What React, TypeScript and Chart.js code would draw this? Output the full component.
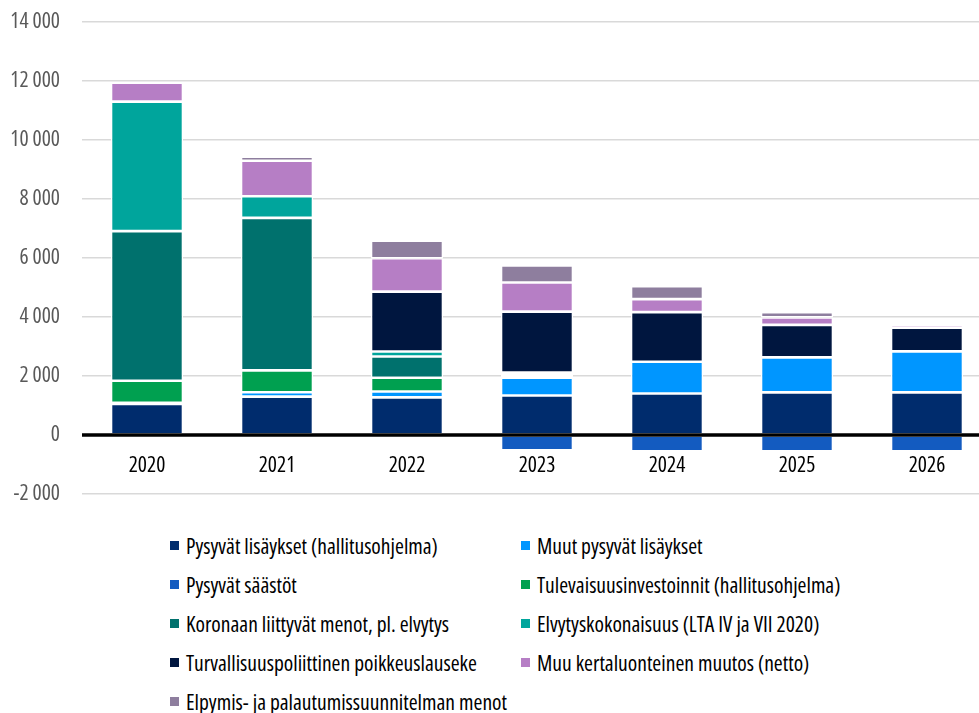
import React, { useEffect, useRef } from 'react';
import { Chart, registerables } from 'chart.js';

Chart.register(...registerables);

const FONT_FAMILY = "'Open Sans', sans-serif";
const FONT_SIZE = 21.5;

const categories = ['2020', '2021', '2022', '2023', '2024', '2025', '2026'];

const seriesLabels = [
  'Pysyvät lisäykset (hallitusohjelma)',
  'Muut pysyvät lisäykset',
  'Pysyvät säästöt',
  'Tulevaisuusinvestoinnit (hallitusohjelma)',
  'Koronaan liittyvät menot, pl. elvytys',
  'Elvytyskokonaisuus (LTA IV ja VII 2020)',
  'Turvallisuuspoliittinen poikkeuslauseke',
  'Muu kertaluonteinen muutos (netto)',
  'Elpymis- ja palautumissuunnitelman menot',
];

const seriesColors = [
  '#002C6D',
  '#0096FF',
  '#135BC0',
  '#00A050',
  '#00716D',
  '#00A59C',
  '#00163F',
  '#B67EC5',
  '#8E7E9E',
];

const pysyvatLisaykset = [1050, 1300, 1275, 1340, 1405, 1446, 1446];
const muutPysyvatLisaykset = [40, 150, 200, 600, 1077, 1185, 1388];
const pysyvatSaastot = [null, null, null, -520, -550, -550, -550];
const tulevaisuusinvestoinnit = [750, 740, 465, 60, null, null, null];
const koronaMenot = [5070, 5170, 720, 60, null, null, null];
const elvytys = [4390, 735, 170, 60, null, null, null];
const turvallisuus = [null, null, 2030, 2062, 1683, 1101, 800];
const muuKertaluonteinen = [640, 1200, 1130, 990, 440, 254, 95];
const elpymis = [null, 140, 600, 572, 441, 179, null];

const seriesValues = [
  pysyvatLisaykset,
  muutPysyvatLisaykset,
  pysyvatSaastot,
  tulevaisuusinvestoinnit,
  koronaMenot,
  elvytys,
  turvallisuus,
  muuKertaluonteinen,
  elpymis,
];

const yMin = -2000;
const yMax = 14000;
const yStep = 2000;

function formatTick(v: number): string {
  const s = Math.abs(v).toString().replace(/\B(?=(\d{3})+(?!\d))/g, ' ');
  return (v < 0 ? '-' : '') + s;
}

const overlayPlugin = {
  id: 'overlay',
  afterDatasetsDraw(chart: any) {
    const { ctx, chartArea, scales } = chart;
    const y0 = scales.y.getPixelForValue(0);
    ctx.save();
    ctx.strokeStyle = '#000000';
    ctx.lineWidth = 3.5;
    ctx.beginPath();
    ctx.moveTo(chartArea.left, y0);
    ctx.lineTo(chartArea.right, y0);
    ctx.stroke();
    ctx.fillStyle = '#000000';
    ctx.font = `normal condensed ${FONT_SIZE}px ${FONT_FAMILY}`;
    ctx.textAlign = 'center';
    ctx.textBaseline = 'middle';
    categories.forEach((c, i) => {
      ctx.fillText(c, scales.x.getPixelForValue(i), y0 + 31);
    });
    ctx.restore();
  },
};

export default function App() {
  const ref = useRef<HTMLCanvasElement | null>(null);

  useEffect(() => {
    if (!ref.current) return;
    const chart = new Chart(ref.current, {
      type: 'bar',
      data: {
        labels: categories,
        datasets: seriesLabels.map((label, i) => ({
          label,
          data: seriesValues[i] as any,
          backgroundColor: seriesColors[i],
          borderColor: '#ffffff',
          borderWidth: 1.3,
          borderSkipped: false,
          categoryPercentage: 1,
          barPercentage: 72 / 130,
        })),
      },
      options: {
        animation: false,
        responsive: false,
        layout: { padding: { top: 22, right: 8, bottom: 16, left: 0 } },
        plugins: {
          legend: { display: false },
          tooltip: { enabled: false },
        },
        scales: {
          x: {
            stacked: true,
            display: false,
            grid: { display: false },
          },
          y: {
            stacked: true,
            min: yMin,
            max: yMax,
            ticks: {
              stepSize: yStep,
              color: '#595959',
              padding: 0,
              font: { family: FONT_FAMILY, size: FONT_SIZE, weight: 'condensed' as any, lineHeight: 0.01 },
              callback: (v: any) => formatTick(Number(v)),
            },
            grid: {
              color: '#d9d9d9',
              lineWidth: 1.6,
              drawTicks: true,
              tickLength: 22,
              tickColor: 'rgba(0,0,0,0)',
            },
            border: { display: false },
            afterFit: (s: any) => {
              s.width = 82;
            },
          },
        },
      },
      plugins: [overlayPlugin],
    });
    return () => chart.destroy();
  }, []);

  return (
    <div
      style={{
        position: 'fixed',
        left: 0,
        top: 0,
        width: 979,
        height: 713,
        overflow: 'hidden',
        background: '#ffffff',
      }}
    >
      <canvas ref={ref} width={1000} height={510} style={{ width: 1000, height: 510, display: 'block' }} />
      <div
        style={{
          position: 'absolute',
          left: 170,
          top: 526,
          display: 'grid',
          gridTemplateColumns: '351px 351px',
          gridAutoRows: '39px',
          fontFamily: FONT_FAMILY,
          fontStretch: 'condensed',
          fontSize: FONT_SIZE,
          color: '#000000',
        }}
      >
        {seriesLabels.map((label, i) => (
          <div key={label} style={{ display: 'flex', alignItems: 'center', whiteSpace: 'nowrap' }}>
            <span
              style={{
                display: 'inline-block',
                width: 9,
                height: 9,
                background: seriesColors[i],
                marginRight: 7,
                flex: '0 0 auto',
              }}
            />
            <span>{label}</span>
          </div>
        ))}
      </div>
    </div>
  );
}
